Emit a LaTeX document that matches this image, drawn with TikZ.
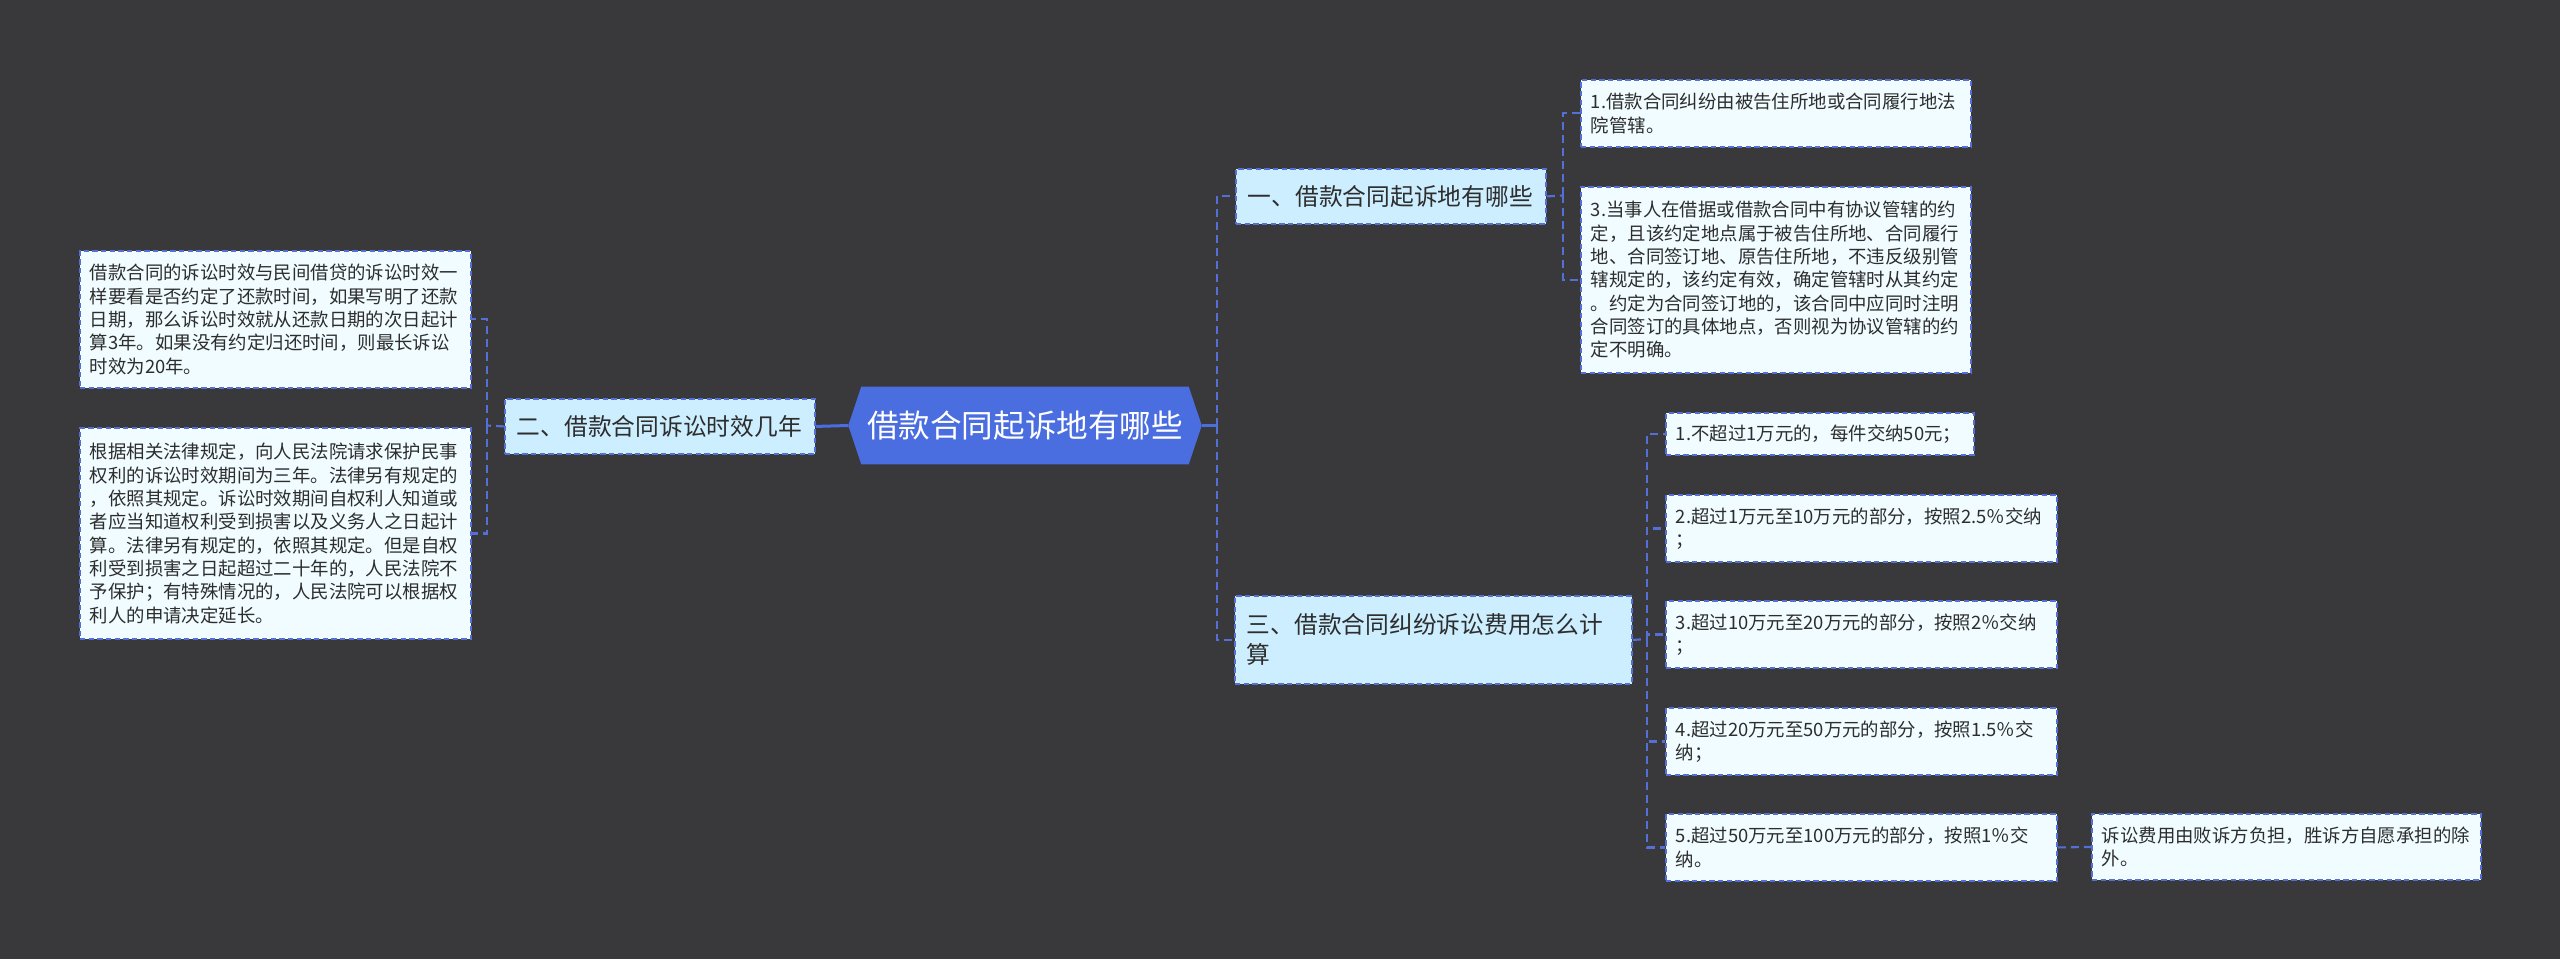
\documentclass[tikz,border=0pt]{standalone}
\usepackage{fontspec}
\setmainfont{Noto Sans CJK SC}
\usetikzlibrary{backgrounds}
\definecolor{bgc}{RGB}{57,56,59}
\definecolor{mainc}{RGB}{74,109,223}
\definecolor{branchfill}{RGB}{204,238,254}
\definecolor{leaffill}{RGB}{240,252,255}
\definecolor{linec}{RGB}{84,112,214}
\definecolor{textc}{RGB}{45,45,45}
\begin{document}
\begin{tikzpicture}[x=0.75pt,y=-0.75pt,
  leafbox/.style={draw=linec, fill=leaffill, line width=1.4pt, dash pattern=on 4pt off 2.5pt,
    text=textc, font=\fontsize{13.8}{17.5}\selectfont, align=left, inner xsep=7.5pt, inner ysep=0pt,
    anchor=north west},
  branchbox/.style={draw=linec, fill=branchfill, line width=1.4pt, dash pattern=on 4pt off 2.5pt,
    text=textc, font=\fontsize{17.8}{22.5}\selectfont, align=left, inner xsep=9pt, inner ysep=0pt,
    anchor=north west},
  mainbox/.style={text=white, font=\fontsize{23.7}{28}\selectfont, inner sep=0pt,
    minimum width=264.75pt, minimum height=57.75pt},
  conn/.style={draw=linec, line width=1.6pt, dash pattern=on 6pt off 3.75pt},
  solidconn/.style={draw=mainc, line width=2.25pt}
]
\useasboundingbox (0,0) rectangle (2560,959);
\begin{scope}[on background layer]
\fill[bgc] (0,0) rectangle (2560,959);
\end{scope}

% main node
\node[mainbox] (main) at (1025,425.5) {借款合同起诉地有哪些};
\begin{scope}[on background layer]
\fill[mainc] (main.west) -- ([xshift=9.75pt]main.north west) -- ([xshift=-9.75pt]main.north east)
  -- (main.east) -- ([xshift=-9.75pt]main.south east) -- ([xshift=9.75pt]main.south west) -- cycle;
\end{scope}

% branches
\node[branchbox, text width=214.5pt, minimum height=41.25pt] (b1) at (1235,168) {一、借款合同起诉地有哪些};
\node[branchbox, text width=214.5pt, minimum height=41.25pt] (b2) at (504,398) {二、借款合同诉讼时效几年};
\node[branchbox, text width=279.75pt, minimum height=66pt] (b3) at (1234,595) {三、借款合同纠纷诉讼费用怎么计\\算};

% left leaves
\node[leafbox, text width=278.25pt, minimum height=102.75pt] (l1) at (79,250) {借款合同的诉讼时效与民间借贷的诉讼时效一\\样要看是否约定了还款时间，如果写明了还款\\日期，那么诉讼时效就从还款日期的次日起计\\算3年。如果没有约定归还时间，则最长诉讼\\时效为20年。};
\node[leafbox, text width=278.25pt, minimum height=158.25pt] (l2) at (79,427) {根据相关法律规定，向人民法院请求保护民事\\权利的诉讼时效期间为三年。法律另有规定的\\，依照其规定。诉讼时效期间自权利人知道或\\者应当知道权利受到损害以及义务人之日起计\\算。法律另有规定的，依照其规定。但是自权\\利受到损害之日起超过二十年的，人民法院不\\予保护；有特殊情况的，人民法院可以根据权\\利人的申请决定延长。};

% branch 1 leaves
\node[leafbox, text width=277.5pt, minimum height=50.25pt] (a1) at (1580,79) {1.借款合同纠纷由被告住所地或合同履行地法\\院管辖。};
\node[leafbox, text width=277.5pt, minimum height=139.5pt] (a3) at (1580,186) {3.当事人在借据或借款合同中有协议管辖的约\\定，且该约定地点属于被告住所地、合同履行\\地、合同签订地、原告住所地，不违反级别管\\辖规定的，该约定有效，确定管辖时从其约定\\。约定为合同签订地的，该合同中应同时注明\\合同签订的具体地点，否则视为协议管辖的约\\定不明确。};

% branch 3 leaves
\node[leafbox, text width=216pt, minimum height=31.5pt] (c1) at (1665,412) {1.不超过1万元的，每件交纳50元；};
\node[leafbox, text width=278.25pt, minimum height=50.25pt] (c2) at (1665,494) {2.超过1万元至10万元的部分，按照2.5％交纳\\；};
\node[leafbox, text width=278.25pt, minimum height=50.25pt] (c3) at (1665,600) {3.超过10万元至20万元的部分，按照2％交纳\\；};
\node[leafbox, text width=278.25pt, minimum height=50.25pt] (c4) at (1665,707) {4.超过20万元至50万元的部分，按照1.5％交\\纳；};
\node[leafbox, text width=278.25pt, minimum height=50.25pt] (c5) at (1665,813) {5.超过50万元至100万元的部分，按照1％交\\纳。};
\node[leafbox, text width=276.75pt, minimum height=49.5pt] (fin) at (2091,813) {诉讼费用由败诉方负担，胜诉方自愿承担的除\\外。};

% trunk coordinates
\coordinate (tr) at (1217,425.5);
\coordinate (tl) at (487,425.5);
\coordinate (t1) at (1563,195.5);
\coordinate (t3) at (1647,639);

% connectors
\draw[solidconn] (main.west) -- (b2.east);
\draw[solidconn] (main.east) -- (tr);
\draw[conn] (tr) |- (b1.west);
\draw[conn] (tr) |- (b3.west);
\draw[conn] (b2.west) -- (tl);
\draw[conn] (tl) |- (l1.east);
\draw[conn] (tl) |- (l2.east);
\draw[conn] (b1.east) -- (t1);
\draw[conn] (t1) |- (a1.west);
\draw[conn] (t1) |- (a3.west);
\draw[conn] (b3.east) -- (t3);
\draw[conn] (t3) |- (c1.west);
\draw[conn] (t3) |- (c2.west);
\draw[conn] (t3) |- (c3.west);
\draw[conn] (t3) |- (c4.west);
\draw[conn] (t3) |- (c5.west);
\draw[conn] (c5.east) -- (fin.west);
\end{tikzpicture}
\end{document}
